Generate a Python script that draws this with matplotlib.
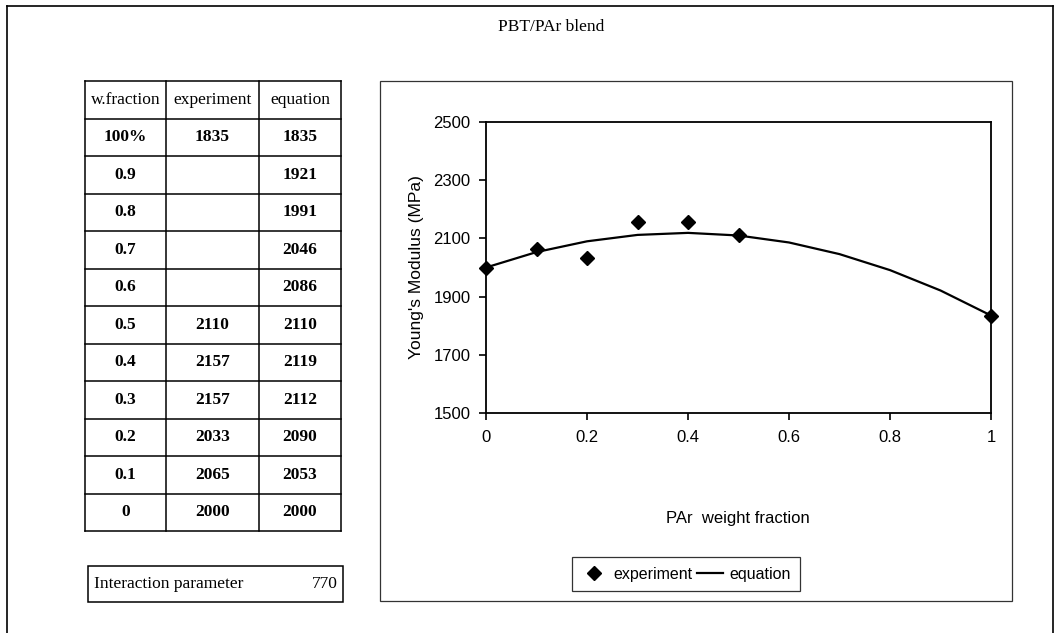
import matplotlib
matplotlib.use('Agg')
import matplotlib.pyplot as plt
from matplotlib.lines import Line2D
from matplotlib.patches import Rectangle
import numpy as np

# data
fractions = ['100%', '0.9', '0.8', '0.7', '0.6', '0.5', '0.4', '0.3', '0.2', '0.1', '0']
experiment = [1835, None, None, None, None, 2110, 2157, 2157, 2033, 2065, 2000]
equation = [1835, 1921, 1991, 2046, 2086, 2110, 2119, 2112, 2090, 2053, 2000]
x_values = [1.0, 0.9, 0.8, 0.7, 0.6, 0.5, 0.4, 0.3, 0.2, 0.1, 0.0]
headers = ['w.fraction', 'experiment', 'equation']
interaction = 770

W, H = 1057, 633
fig = plt.figure(figsize=(W / 100, H / 100), dpi=100)

def fx(x):
    return x / W

def fy(y):
    return 1 - y / H

def hline(x0, x1, y, lw=1.1, color='black'):
    fig.add_artist(Line2D([fx(x0), fx(x1)], [fy(y), fy(y)], lw=lw, color=color))

def vline(x, y0, y1, lw=1.1, color='black'):
    fig.add_artist(Line2D([fx(x), fx(x)], [fy(y0), fy(y1)], lw=lw, color=color))

serif = 'Liberation Serif'
sans = 'Liberation Sans'

# outer page frame
hline(7, 1053, 6, lw=1.2)
vline(7, 6, 633, lw=1.2)
vline(1053, 6, 633, lw=1.2)

fig.text(fx(551), fy(27), 'PBT/PAr blend', family=serif, fontsize=12.5, ha='center', va='center')

# table
col_x = [85, 166, 259, 341]
row_y = np.linspace(81, 531, 13)
for y in row_y:
    hline(col_x[0], col_x[-1], y)
for x in col_x:
    vline(x, row_y[0], row_y[-1])

for j, h in enumerate(headers):
    fig.text(fx((col_x[j] + col_x[j + 1]) / 2), fy((row_y[0] + row_y[1]) / 2), h,
             family=serif, fontsize=12.5, ha='center', va='center')
for i in range(len(fractions)):
    yc = fy((row_y[i + 1] + row_y[i + 2]) / 2)
    cells = [fractions[i],
             '' if experiment[i] is None else str(experiment[i]),
             str(equation[i])]
    for j, c in enumerate(cells):
        fig.text(fx((col_x[j] + col_x[j + 1]) / 2), yc, c, family=serif,
                 fontsize=12.5, fontweight='bold', ha='center', va='center')

# interaction parameter box
fig.add_artist(Rectangle((fx(88), fy(602)), fx(343) - fx(88), fy(566) - fy(602),
                         fill=False, lw=1.1, edgecolor='black'))
fig.text(fx(94), fy(584), 'Interaction parameter', family=serif, fontsize=12.5,
         ha='left', va='center')
fig.text(fx(338), fy(584), str(interaction), family=serif, fontsize=12.5,
         ha='right', va='center')

# chart area box
fig.add_artist(Rectangle((fx(380), fy(601)), fx(1012) - fx(380), fy(81) - fy(601),
                         fill=False, lw=0.9, edgecolor='#333333'))

ax = fig.add_axes([fx(486), fy(413), fx(991) - fx(486), fy(122) - fy(413)])
exp_x = [x for x, e in zip(x_values, experiment) if e is not None]
exp_y = [e for e in experiment if e is not None]
ax.plot(x_values, equation, color='black', lw=1.6, label='equation', zorder=2)
ax.plot(exp_x, exp_y, 'D', color='black', ms=7, label='experiment',
        clip_on=False, zorder=3)

ax.set_xlim(0, 1)
ax.set_ylim(1500, 2500)
ax.set_xticks(np.arange(0, 1.01, 0.2))
ax.set_xticklabels(['0', '0.2', '0.4', '0.6', '0.8', '1'])
ax.set_yticks(np.arange(1500, 2501, 200))
for s in ax.spines.values():
    s.set_linewidth(1.3)
ax.tick_params(direction='out', length=5, width=1.2, labelsize=12)
ax.tick_params(axis='x', pad=7)
ax.tick_params(axis='y', pad=6)
for lab in ax.get_xticklabels() + ax.get_yticklabels():
    lab.set_family(sans)
ax.set_ylabel("Young's Modulus (MPa)", family=sans, fontsize=12.5, labelpad=7)

fig.text(fx(738), fy(519), 'PAr  weight fraction', family=sans, fontsize=12,
         ha='center', va='center')

handles, labels = ax.get_legend_handles_labels()
leg = fig.legend(handles[::-1], labels[::-1], loc='center', ncol=2,
                 bbox_to_anchor=(fx(686), fy(574)), frameon=True, fancybox=False,
                 prop={'family': sans, 'size': 11.5}, handlelength=1.6,
                 columnspacing=0.3, handletextpad=0.4, borderpad=0.6)
leg.get_frame().set_edgecolor('black')
leg.get_frame().set_linewidth(0.9)

fig.savefig('out.png', dpi=100)
